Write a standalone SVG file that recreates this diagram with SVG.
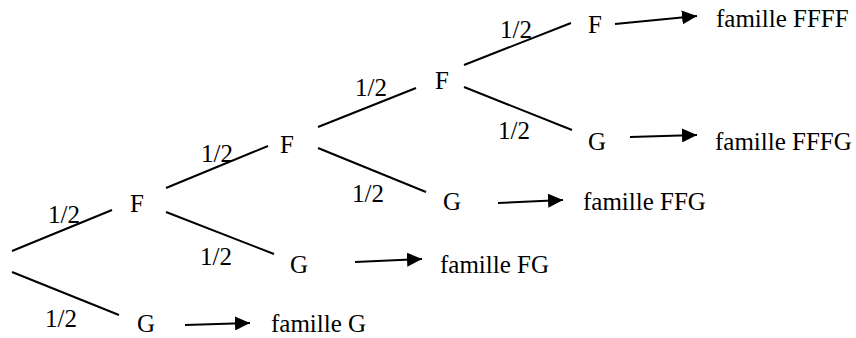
<svg xmlns="http://www.w3.org/2000/svg" width="856" height="338" viewBox="0 0 856 338" font-family="'Liberation Serif', 'Times New Roman', Times, serif" font-size="25">
<style>
text{font-family:'Liberation Serif','Times New Roman',Times,serif;font-size:25px;fill:#000}
.e{stroke:#000;stroke-width:2;fill:none}
.a{stroke:#000;stroke-width:2;fill:none;marker-end:url(#ah)}
</style>
<defs>
<marker id="ah" markerUnits="userSpaceOnUse" markerWidth="16" markerHeight="14" refX="15" refY="7" orient="auto">
<path d="M0,0 L15,7 L0,14 Z" fill="#000"/>
</marker>
</defs>
<rect width="856" height="338" fill="#fff"/>
<g id="connectors">
<line class="e" x1="12" y1="251" x2="112" y2="210"/>
<line class="e" x1="12" y1="272" x2="119" y2="315"/>
<line class="e" x1="166" y1="188" x2="268" y2="146"/>
<line class="e" x1="166" y1="212" x2="274" y2="254"/>
<line class="e" x1="318" y1="127" x2="416" y2="88"/>
<line class="e" x1="318" y1="148" x2="426" y2="192"/>
<line class="e" x1="464" y1="65" x2="571" y2="23"/>
<line class="e" x1="464" y1="87" x2="572" y2="130"/>
<line class="a" x1="615" y1="24" x2="697" y2="16"/>
<line class="a" x1="630" y1="137" x2="697" y2="135"/>
<line class="a" x1="498" y1="203" x2="563" y2="200"/>
<line class="a" x1="355" y1="262" x2="422" y2="259"/>
<line class="a" x1="185" y1="325" x2="250" y2="323"/>
</g>
<g id="labels">
<text x="48" y="223">1/2</text>
<text x="45" y="327">1/2</text>
<text x="201" y="162">1/2</text>
<text x="200" y="265">1/2</text>
<text x="355" y="96">1/2</text>
<text x="352" y="202">1/2</text>
<text x="500" y="38">1/2</text>
<text x="498" y="139">1/2</text>
</g>
<g id="node-F1"><text x="130" y="212">F</text></g>
<g id="node-G1"><text x="137" y="332">G</text></g>
<g id="node-F2"><text x="280" y="153">F</text></g>
<g id="node-G2"><text x="290" y="273">G</text></g>
<g id="node-F3"><text x="435" y="89">F</text></g>
<g id="node-G3"><text x="443" y="210">G</text></g>
<g id="node-F4"><text x="588" y="33">F</text></g>
<g id="node-G4"><text x="588" y="150">G</text></g>
<g id="out-FFFF"><text x="716" y="27">famille FFFF</text></g>
<g id="out-FFFG"><text x="715" y="150">famille FFFG</text></g>
<g id="out-FFG"><text x="583" y="210">famille FFG</text></g>
<g id="out-FG"><text x="440" y="273">famille FG</text></g>
<g id="out-G"><text x="271" y="332">famille G</text></g>
</svg>
